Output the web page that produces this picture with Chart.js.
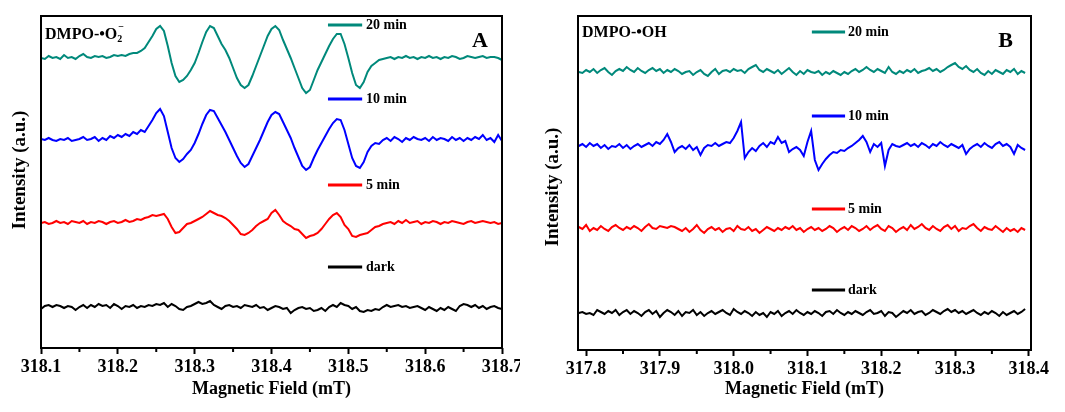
<!DOCTYPE html>
<html>
<head>
<meta charset="utf-8">
<title>EPR spectra</title>
<script src="https://cdn.jsdelivr.net/npm/chart.js@4.4.1/dist/chart.umd.min.js"></script>
<style>
  html, body { margin: 0; padding: 0; background: #fff; }
  #wrap { position: relative; width: 1065px; height: 412px; }
  #wrap canvas { position: absolute; top: 0; display: block; }
  #chartA { left: 0; }
  #chartB { left: 530px; }
</style>
</head>
<body>
<div id="wrap">
  <canvas id="chartA" width="520" height="412"></canvas>
  <canvas id="chartB" width="535" height="412"></canvas>
</div>
<script>
// Field sweeps (mT), 0.005 mT per point
const fieldA = Array.from({ length: 121 }, (_, i) => +(318.1 + i * 0.005).toFixed(3));
const fieldB = Array.from({ length: 122 }, (_, i) => +(317.79 + i * 0.005).toFixed(3));

const ticksA = [318.1, 318.2, 318.3, 318.4, 318.5, 318.6, 318.7];
const ticksB = [317.8, 317.9, 318.0, 318.1, 318.2, 318.3, 318.4];

const seriesNames = ['dark', '5 min', '10 min', '20 min'];
const seriesColors = ['#000000', '#ff0000', '#0000ff', '#00897b'];

// DMPO-•O2- spectra (a.u., relative to each trace's baseline)
const darkA = [
  -2, 1, 2, 0, 2, 1, -1, 1, 0, -3,
  0, 2, -1, 2, 0, 3, 1, 2, -1, 3,
  1, -2, 1, 0, 2, -1, 1, 0, 2, 1,
  3, 2, 4, 0, 3, 1, -2, -3, 0, 1,
  3, 5, 3, 4, 6, 2, 0, -2, 1, 2,
  0, 1, -1, 2, 1, 0, 2, -1, 0, -3,
  -1, 1, 0, -2, -1, -6, -3, -1, 0, -2,
  -1, -4, -3, -1, -4, 0, 2, 0, 4, 2,
  1, -2, 0, -4, -5, -3, -4, -2, -3, 0,
  2, 0, 1, 2, 0, 1, -1, 0, 1, -1,
  -3, 0, -2, -4, -1, -3, 0, -2, -4, 1,
  3, 2, 0, 2, -1, 1, -2, 0, 1, -1,
  -2
];
const min5A = [
  0, 1, -1, 0, 2, 0, 1, -1, 2, 1,
  0, 2, -1, 1, 0, 2, 1, -1, 1, 2,
  0, 1, 3, 1, 2, 4, 3, 5, 6, 8,
  7, 8, 9, 4, -4, -10, -9, -5, -1, 0,
  2, 4, 6, 9, 12, 10, 8, 7, 5, 2,
  -2, -6, -11, -12, -10, -7, -3, 0, 2, 4,
  10, 13, 8, 2, -1, -3, -6, -7, -11, -15,
  -13, -12, -10, -6, -1, 4, 8, 10, 6, -2,
  -6, -13, -14, -12, -11, -10, -7, -4, -3, -1,
  0, 1, -1, 2, 0, 3, 0, 1, 2, -1,
  1, 0, 2, 1, -1, 1, 0, 2, 1, 0,
  -1, 1, 2, 0, 1, 2, 1, 0, 1, -1,
  0
];
const min10A = [
  1, 0, 2, 0, -1, 1, 0, 2, -1, 0,
  1, 3, 0, 1, 3, -1, 2, 0, 4, 2,
  5, 3, 6, 4, 8, 6, 10, 8, 14, 20,
  27, 31, 24, 8, -8, -18, -22, -19, -14, -10,
  -3, 6, 16, 25, 30, 29, 22, 15, 8, 0,
  -8, -16, -23, -27, -24, -16, -8, 0, 9, 18,
  25, 28, 26, 18, 10, 2, -8, -17, -26, -30,
  -27, -18, -10, -3, 4, 11, 17, 21, 20, 10,
  -4, -18, -26, -28, -22, -12, -6, -3, -4, 0,
  2, -1, 3, 1, -2, 2, 0, 3, 1, 0,
  2, -1, 3, 0, 2, 1, -1, 3, 0, 2,
  -1, 2, 0, 3, 1, 5, 0, 2, -2, 5,
  -1
];
const min20A = [
  0, -1, 2, 0, 1, -1, 3, 0, 1, -1,
  2, 4, 1, 0, 2, 1, 2, 0, 1, 3,
  2, 3, 2, 4, 5, 5, 7, 10, 16, 22,
  29, 32, 27, 12, -5, -18, -24, -22, -18, -12,
  -5, 5, 16, 26, 32, 30, 22, 14, 8, 0,
  -10, -20, -27, -30, -27, -18, -8, 2, 12, 22,
  29, 32, 28, 18, 9, 0, -10, -20, -30, -35,
  -32, -22, -12, -4, 4, 12, 19, 24, 24, 14,
  0, -15, -27, -30, -24, -14, -8, -5, -2, -1,
  0, 1, -1, 1, 0, 2, 0, 1, -1, 1,
  0, 2, 0, 1, -1, 1, 0, 2, 1, -1,
  0, 2, 1, 0, 1, 2, 0, 1, 1, 0,
  -2
];

// DMPO-•OH spectra
const darkB = [
  0, 1, -1, 0, -2, 3, 1, -1, 2, 0,
  3, -2, 1, 3, -1, 2, 0, -3, 1, 3,
  -1, 2, -4, 0, 3, 1, -2, 2, -3, 1,
  0, 3, -2, 1, -3, 0, 2, -1, 1, 3,
  0, -2, 4, 1, -1, 2, 0, -3, 1, -2,
  0, -4, 1, -1, 2, -3, 0, 2, -1, 3,
  0, -2, 1, -1, 2, 0, -3, 1, 2, -1,
  3, 0, -2, 1, -1, 2, 0, -2, 1, 3,
  -1, 0, 2, -3, 1, 0, -4, -1, 2, 0,
  3, -1, 1, 2, -2, 0, 3, 1, -1, 2,
  4, 1, 3, 0, 2, -1, 1, 3, 0, -2,
  1, -1, 2, 0, -3, 1, -2, 0, 2, -1,
  1, 4
];
const min5B = [
  2, 0, 4, -2, 1, -1, 3, 0, -2, 2,
  4, 1, -1, 2, 0, 3, 1, -2, 2, 5,
  1, 0, 3, 2, 1, 3, 2, 0, -2, 1,
  -3, 0, 4, -1, -4, 0, 2, -1, 1, -3,
  0, 1, -2, 3, 0, -1, 2, -2, 0, -4,
  -1, 2, 0, -2, 1, -1, 2, 0, 3, -1,
  1, -3, 0, 2, -1, 1, -2, 0, 3, 1,
  -3, 0, 2, -1, 3, 1, -2, 0, 3, -1,
  2, 4, 0, -2, 3, 1, -3, 0, 2, -1,
  4, 0, 2, 5, 1, -1, 3, 0, -2, 2,
  4, 0, 3, -2, 1, 0, 3, 5, 1, -2,
  2, 0, -1, 3, 0, -3, 1, -2, 0, -3,
  1, -1
];
const min10B = [
  0, 2, -1, 3, 0, 2, -2, 1, -3, 0,
  -1, 2, -2, 1, -3, 0, 2, -1, 1, 3,
  0, 4, 2, 6, 12, 4, -6, -2, 0, -3,
  1, -4, -1, -9, -2, 1, 0, 3, 0, 2,
  4, 3, 8, 15, 24, -12, -6, -2, -5, 0,
  3, -1, 4, 2, 9, 3, 5, -6, -3, -1,
  -4, -10, 4, 15, -14, -24, -18, -13, -9, -6,
  -7, -4, -5, -2, 0, 3, 6, 10, 4, -6,
  2, -1, 3, -20, -4, 2, 0, -1, 1, 3,
  0, 2, -1, 3, 1, -2, 2, 0, 4, 1,
  -1, 2, 0, -2, 1, -8, -3, 0, 2, -1,
  3, 0, -2, 2, 4, 0, 2, -1, -8, 1,
  -2, -4
];
const min20B = [
  0, -1, 2, 0, 3, -1, 2, 4, 0, -3,
  1, 3, 1, 5, 2, 0, 4, 1, -1, 2,
  4, 1, 3, -1, 2, 0, 3, 1, -2, 0,
  1, -3, 0, 2, -2, -4, 0, 3, -2, 1,
  2, 0, 3, 1, 2, -1, 3, 5, 7, 2,
  0, 3, 1, -1, 2, -2, 1, 4, 0, -3,
  1, -2, 2, 0, -1, 1, -3, 0, -2, 1,
  -1, -3, 0, -2, 1, 3, 0, 2, 5, 2,
  0, 3, 1, -1, 5, 0, -2, 1, -1, 2,
  0, 3, -1, 1, 2, 4, 1, 3, 0, 2,
  5, 7, 9, 5, 3, 6, 2, 0, 3, -1,
  -3, 1, -2, 2, 0, -2, 2, 0, 3, -2,
  1, -1
];

// vertical stacking of the traces (dark, 5, 10, 20 min)
const stackA = [41, 125, 208, 290];
const stackB = [37, 121, 204, 278];

Chart.defaults.font.family = '"Liberation Serif", "Times New Roman", serif';
Chart.defaults.color = '#000';

// frame, minor ticks, trace keys and panel captions
const decorPlugin = {
  id: 'spectrumDecor',
  afterDatasetsDraw(chart, args, o) {
    const { ctx, chartArea: a, scales: { x, y } } = chart;
    const serif = '"Liberation Serif", "Times New Roman", serif';
    ctx.save();
    ctx.strokeStyle = '#000';
    ctx.lineWidth = 2;
    ctx.strokeRect(a.left, a.top, a.right - a.left, a.bottom - a.top);

    o.minorTicks.forEach(v => {
      const px = x.getPixelForValue(v);
      ctx.beginPath();
      ctx.moveTo(px, a.bottom);
      ctx.lineTo(px, a.bottom + 4);
      ctx.stroke();
    });

    // keys next to each trace
    ctx.lineWidth = 3;
    ctx.font = 'bold 14px ' + serif;
    ctx.textBaseline = 'middle';
    ctx.textAlign = 'left';
    o.keyLevels.forEach((lv, k) => {
      const py = y.getPixelForValue(lv);
      ctx.strokeStyle = seriesColors[k];
      ctx.beginPath();
      ctx.moveTo(x.getPixelForValue(o.keyLine[0]), py);
      ctx.lineTo(x.getPixelForValue(o.keyLine[1]), py);
      ctx.stroke();
      ctx.fillStyle = '#000';
      ctx.fillText(seriesNames[k], x.getPixelForValue(o.keyText), py);
    });

    // spin adduct name
    ctx.textBaseline = 'alphabetic';
    ctx.font = 'bold 16px ' + serif;
    const tx = a.left + 4, ty = a.top + o.probeDy;
    ctx.fillText(o.probe, tx, ty);
    if (o.probeSub) {
      const w = ctx.measureText(o.probe).width;
      ctx.font = 'bold 10px ' + serif;
      ctx.fillText(o.probeSub, tx + w, ty + 3);
      ctx.fillText(o.probeSup, tx + w + 1, ty - 9);
    }

    // panel letter
    ctx.font = 'bold 22px ' + serif;
    ctx.textAlign = 'right';
    ctx.fillText(o.tag, a.right - o.tagDx, a.top + 31);

    // y axis title
    ctx.translate(o.yTitle[0], o.yTitle[1]);
    ctx.rotate(-Math.PI / 2);
    ctx.textAlign = 'center';
    ctx.textBaseline = 'middle';
    ctx.font = 'bold 19px ' + serif;
    ctx.fillText('Intensity (a.u.)', 0, 0);
    ctx.restore();
  }
};

function buildChart(id, cfg) {
  const datasets = cfg.series.map((vals, k) => ({
    label: seriesNames[k],
    data: vals.map((v, i) => ({ x: cfg.field[i], y: v + cfg.stack[k] })),
    borderColor: seriesColors[k],
    borderWidth: 2,
    pointRadius: 0,
    tension: 0,
    fill: false
  }));

  return new Chart(document.getElementById(id), {
    type: 'line',
    data: { datasets },
    options: {
      responsive: false,
      animation: false,
      layout: { padding: { left: cfg.padLeft, right: cfg.padRight, top: 16, bottom: 0 } },
      plugins: {
        legend: { display: false },
        tooltip: { enabled: false },
        spectrumDecor: cfg.decor
      },
      scales: {
        x: {
          type: 'linear',
          min: cfg.xMin,
          max: cfg.xMax,
          afterBuildTicks: axis => { axis.ticks = cfg.ticks.map(v => ({ value: v })); },
          afterFit: axis => {
            axis.height = cfg.axisHeight;
            axis.paddingLeft = 0;
            axis.paddingRight = 0;
          },
          ticks: {
            callback: v => v.toFixed(1),
            font: { size: 18, weight: 'bold' },
            color: '#000',
            padding: 3,
            maxRotation: 0,
            autoSkip: false
          },
          grid: {
            drawOnChartArea: false,
            drawTicks: true,
            tickLength: 6,
            tickWidth: 2,
            tickColor: '#000'
          },
          border: { display: false },
          title: {
            display: true,
            text: 'Magnetic Field (mT)',
            font: { size: 18, weight: 'bold' },
            color: '#000',
            padding: { top: 0, bottom: 12 }
          }
        },
        y: { display: false, min: 0, max: cfg.yMax }
      }
    },
    plugins: [decorPlugin]
  });
}

buildChart('chartA', {
  field: fieldA,
  series: [darkA, min5A, min10A, min20A],
  stack: stackA,
  ticks: ticksA,
  xMin: 318.1,
  xMax: 318.7,
  yMax: 332,
  padLeft: 41,
  padRight: 18,
  axisHeight: 64,
  decor: {
    minorTicks: [318.15, 318.25, 318.35, 318.45, 318.55, 318.65],
    keyLevels: [81, 163, 249, 323],
    keyLine: [318.4735, 318.518],
    keyText: 318.523,
    probe: 'DMPO-•O',
    probeSub: '2',
    probeSup: '−',
    probeDy: 23,
    tag: 'A',
    tagDx: 14,
    yTitle: [20, 170]
  }
});

buildChart('chartB', {
  field: fieldB,
  series: [darkB, min5B, min10B, min20B],
  stack: stackB,
  ticks: ticksB,
  xMin: 317.789,
  xMax: 318.403,
  yMax: 334,
  padLeft: 48,
  padRight: 34,
  axisHeight: 62,
  decor: {
    minorTicks: [317.85, 317.95, 318.05, 318.15, 318.25, 318.35],
    keyLevels: [60, 141, 234, 318],
    keyLine: [318.106, 318.151],
    keyText: 318.155,
    probe: 'DMPO-•OH',
    probeSub: '',
    probeSup: '',
    probeDy: 21,
    tag: 'B',
    tagDx: 18,
    yTitle: [23, 187]
  }
});
</script>
</body>
</html>
